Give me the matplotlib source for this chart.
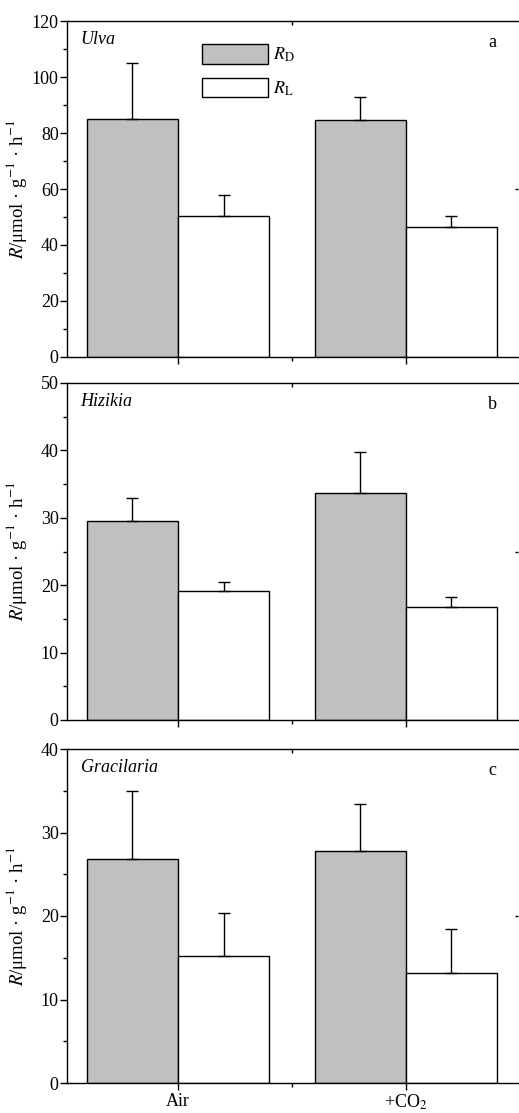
import numpy as np
import matplotlib.pyplot as plt
from matplotlib.ticker import MultipleLocator, FixedLocator

plt.rcParams['font.family'] = ['Liberation Serif', 'DejaVu Serif']
plt.rcParams['mathtext.fontset'] = 'stix'

# data
treatments = ['Air', '+CO$_2$']
species = ['Ulva', 'Hizikia', 'Gracilaria']
panel_tags = ['a', 'b', 'c']

rd_mean = [[85.0, 84.5], [29.5, 33.7], [26.8, 27.8]]
rd_err = [[20.0, 8.2], [3.5, 6.1], [8.2, 5.6]]
rl_mean = [[50.5, 46.5], [19.1, 16.7], [15.2, 13.2]]
rl_err = [[7.5, 4.0], [1.4, 1.5], [5.1, 5.2]]

ymax = [120, 50, 40]
ymajor = [20, 10, 10]
yminor = [10, 5, 5]

fig = plt.figure(figsize=(5.19, 11.13), dpi=100)

# panel boxes in pixels: (top, bottom)
boxes = [(21, 357), (383, 720), (749, 1083)]
H = 1113.0
left, right = 67 / 519, 517.5 / 519

x = np.arange(len(treatments))
w = 0.4

for i in range(3):
    top, bot = boxes[i]
    ax = fig.add_axes([left, 1 - bot / H, right - left, (bot - top) / H])

    b1 = ax.bar(x - w / 2, rd_mean[i], w, color='#c0c0c0', edgecolor='black', linewidth=1.0, label='$\\it{R}_{\\mathrm{D}}$')
    b2 = ax.bar(x + w / 2, rl_mean[i], w, color='white', edgecolor='black', linewidth=1.0, label='$\\it{R}_{\\mathrm{L}}$')
    ax.errorbar(x - w / 2, rd_mean[i], yerr=[np.zeros(2), rd_err[i]], fmt='none', ecolor='black', elinewidth=1.0, capsize=4, capthick=1.0)
    ax.errorbar(x + w / 2, rl_mean[i], yerr=[np.zeros(2), rl_err[i]], fmt='none', ecolor='black', elinewidth=1.0, capsize=4, capthick=1.0)

    ax.set_xlim(-0.487, 1.49)
    ax.set_ylim(0, ymax[i])
    ax.yaxis.set_major_locator(MultipleLocator(ymajor[i]))
    ax.yaxis.set_minor_locator(MultipleLocator(yminor[i]))
    ax.xaxis.set_major_locator(FixedLocator(x))
    ax.xaxis.set_minor_locator(FixedLocator([0.5]))

    ax.spines['right'].set_visible(False)
    for s in ['left', 'top', 'bottom']:
        ax.spines[s].set_linewidth(1.0)

    ax.tick_params(axis='y', which='major', direction='out', length=5, width=1, labelsize=13, pad=1)
    ax.tick_params(axis='y', which='minor', direction='out', length=3, width=1)
    ax.tick_params(axis='x', which='major', direction='out', length=5, width=1, labelsize=13, pad=2)
    ax.tick_params(axis='x', which='minor', direction='out', length=3, width=1)

    # small inward tick on the top spine between the groups
    sec = ax.secondary_xaxis('top')
    sec.set_xticks([0.5])
    sec.set_xticklabels([])
    sec.tick_params(direction='in', length=3, width=1)
    sec.spines['top'].set_visible(False)

    # faint mark on the right edge at mid height
    secy = ax.secondary_yaxis('right')
    secy.set_yticks([ymax[i] / 2])
    secy.set_yticklabels([])
    secy.tick_params(direction='in', length=2, width=1)
    secy.spines['right'].set_visible(False)

    if i == 2:
        ax.set_xticklabels(treatments)
    else:
        ax.set_xticklabels([])

    ax.set_ylabel('$\\it{R}$/μmol · g$^{-1}$ · h$^{-1}$', fontsize=13.5)
    ax.yaxis.set_label_coords(-0.085, 0.5)

    ax.text(0.03, 0.945, species[i], transform=ax.transAxes, fontsize=13, style='italic', va='center', ha='left')
    ax.text(0.935, 0.935, panel_tags[i], transform=ax.transAxes, fontsize=13, va='center', ha='left')

    if i == 0:
        ax.legend(handles=[b1, b2], loc='upper left', bbox_to_anchor=(0.299, 0.932), frameon=False,
                  borderpad=0, borderaxespad=0, handlelength=3.65, handleheight=1.3,
                  fontsize=13, labelspacing=0.75, handletextpad=0.3)

fig.savefig('out.png', dpi=100)
